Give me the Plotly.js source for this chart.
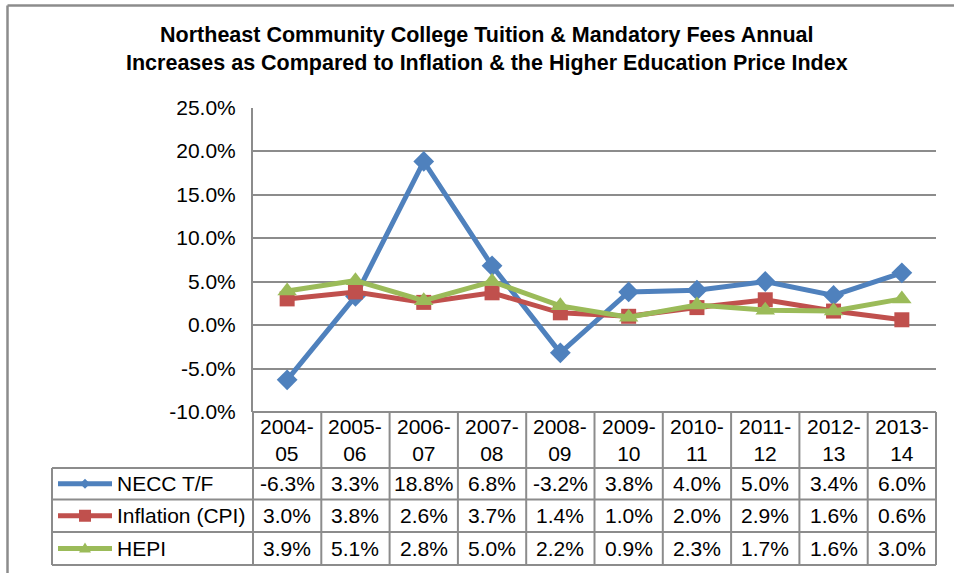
<!DOCTYPE html>
<html>
<head>
<meta charset="utf-8">
<script src="https://cdn.plot.ly/plotly-3.0.1.min.js"></script>
<style>html,body{margin:0;padding:0;background:#fff}#chart{width:954px;height:573px}</style>
</head>
<body>
<div id="chart"></div>
<script>
// ---- data ----
const categories = ["2004-05","2005-06","2006-07","2007-08","2008-09","2009-10","2010-11","2011-12","2012-13","2013-14"];
const neccTF = [-6.3, 3.3, 18.8, 6.8, -3.2, 3.8, 4.0, 5.0, 3.4, 6.0];
const inflationCPI = [3.0, 3.8, 2.6, 3.7, 1.4, 1.0, 2.0, 2.9, 1.6, 0.6];
const hepi = [3.9, 5.1, 2.8, 5.0, 2.2, 0.9, 2.3, 1.7, 1.6, 3.0];
const seriesNames = ["NECC T/F", "Inflation (CPI)", "HEPI"];
const yTicks = [-10, -5, 0, 5, 10, 15, 20, 25];
const titleLines = ["Northeast Community College Tuition & Mandatory Fees Annual",
                    "Increases as Compared to Inflation & the Higher Education Price Index"];

// ---- layout helpers ----
const W = 954, H = 573;
const X = px => px / W;
const Y = py => 1 - py / H;
const FONT = "Liberation Sans, Arial, sans-serif";
const FS = 21;
const colors = ["#4F81BD", "#C0504D", "#9BBB59"];
const symbols = ["diamond", "square", "triangle-up"];
const markerSizes = [16, 15, 17];
const seriesData = [neccTF, inflationCPI, hepi];

const plotL = 253, plotR = 936, plotT = 107.5, plotB = 412;
const colW = (plotR - plotL) / categories.length;
const legL = 52;
const rowLines = [412, 468, 499.5, 532, 565];
const grey = "#8c8c8c";

const traces = seriesData.map((vals, i) => ({
  type: "scatter", mode: "lines+markers",
  x: categories.map((c, k) => k), y: vals, name: seriesNames[i],
  line: {color: colors[i], width: 5},
  marker: {symbol: symbols[i], size: markerSizes[i], color: colors[i]},
  hoverinfo: "skip", showlegend: false
}));

const shapes = [];
const annotations = [];
// outer frame
shapes.push({type: "line", xref: "paper", yref: "paper", x0: X(7.5), x1: 1, y0: Y(5.5), y1: Y(5.5), line: {color: grey, width: 2.5}});
shapes.push({type: "line", xref: "paper", yref: "paper", x0: X(7.5), x1: X(7.5), y0: Y(5.5), y1: 0, line: {color: grey, width: 2.5}});

// table horizontal lines
rowLines.forEach((ry, r) => {
  const x0 = r === 0 ? plotL : legL;
  shapes.push({type: "line", xref: "paper", yref: "paper", x0: X(x0), x1: X(plotR), y0: Y(ry), y1: Y(ry), line: {color: grey, width: 2}});
});
// table vertical lines
for (let k = 0; k <= categories.length; k++) {
  const vx = plotL + k * colW;
  shapes.push({type: "line", xref: "paper", yref: "paper", x0: X(vx), x1: X(vx), y0: Y(plotB), y1: Y(565), line: {color: grey, width: 2}});
}
shapes.push({type: "line", xref: "paper", yref: "paper", x0: X(legL), x1: X(legL), y0: Y(468), y1: Y(565), line: {color: grey, width: 2}});

function txt(x, y, text, anchor, opts) {
  annotations.push(Object.assign({xref: "paper", yref: "paper", x: X(x), y: Y(y), text: text,
    showarrow: false, xanchor: anchor, yanchor: "middle",
    font: {family: FONT, size: FS, color: "#000"}}, opts || {}));
}

// header labels (two lines each)
categories.forEach((c, k) => {
  const parts = c.split("-");
  const cx = plotL + (k + 0.5) * colW;
  txt(cx, 440, parts[0] + "-<br>" + parts[1], "center");
});
// data cells + legend keys
seriesData.forEach((vals, i) => {
  const cy = (rowLines[i + 1] + rowLines[i + 2]) / 2;
  vals.forEach((v, k) => txt(plotL + (k + 0.5) * colW, cy, v.toFixed(1) + "%", "center"));
  txt(115, cy, seriesNames[i], "left");
  shapes.push({type: "line", xref: "paper", yref: "paper", x0: X(58), x1: X(112), y0: Y(cy), y1: Y(cy),
    line: {color: colors[i], width: 5}});
  const mx = 85;
  let path;
  if (i === 0) path = `M${X(mx-5)},${Y(cy)} L${X(mx)},${Y(cy-5)} L${X(mx+5)},${Y(cy)} L${X(mx)},${Y(cy+5)} Z`;
  else if (i === 1) path = `M${X(mx-6)},${Y(cy-6)} L${X(mx+6)},${Y(cy-6)} L${X(mx+6)},${Y(cy+6)} L${X(mx-6)},${Y(cy+6)} Z`;
  else path = `M${X(mx-6)},${Y(cy+4)} L${X(mx)},${Y(cy-6)} L${X(mx+6)},${Y(cy+4)} Z`;
  shapes.push({type: "path", xref: "paper", yref: "paper", path: path, fillcolor: colors[i], line: {color: colors[i], width: 0}});
});

// title (one two-line text)
txt(487, 49.5, "<b>" + titleLines.map(s => s.replace(/&/g, "&amp;")).join("<br>") + "</b>", "center",
  {font: {family: FONT, size: 21.5, color: "#000"}});

const layout = {
  width: W, height: H,
  margin: {l: 0, r: 0, t: 0, b: 0},
  paper_bgcolor: "#fff", plot_bgcolor: "#fff",
  showlegend: false,
  xaxis: {domain: [X(plotL), X(plotR)], range: [-0.5, categories.length - 0.5],
    showticklabels: false, showgrid: false, zeroline: false, showline: false, ticks: ""},
  yaxis: {domain: [Y(plotB), Y(plotT)], range: [-10, 25], tickvals: yTicks,
    ticktext: yTicks.map(v => v.toFixed(1) + "%"),
    showgrid: true, gridcolor: grey, gridwidth: 2, zeroline: false,
    showline: true, linecolor: grey, linewidth: 2,
    ticks: "outside", ticklen: 11, tickcolor: "rgba(0,0,0,0)",
    tickfont: {family: FONT, size: FS, color: "#000"}},
  shapes: shapes,
  annotations: annotations
};

Plotly.newPlot("chart", traces, layout, {displayModeBar: false, staticPlot: true});
</script>
</body>
</html>
